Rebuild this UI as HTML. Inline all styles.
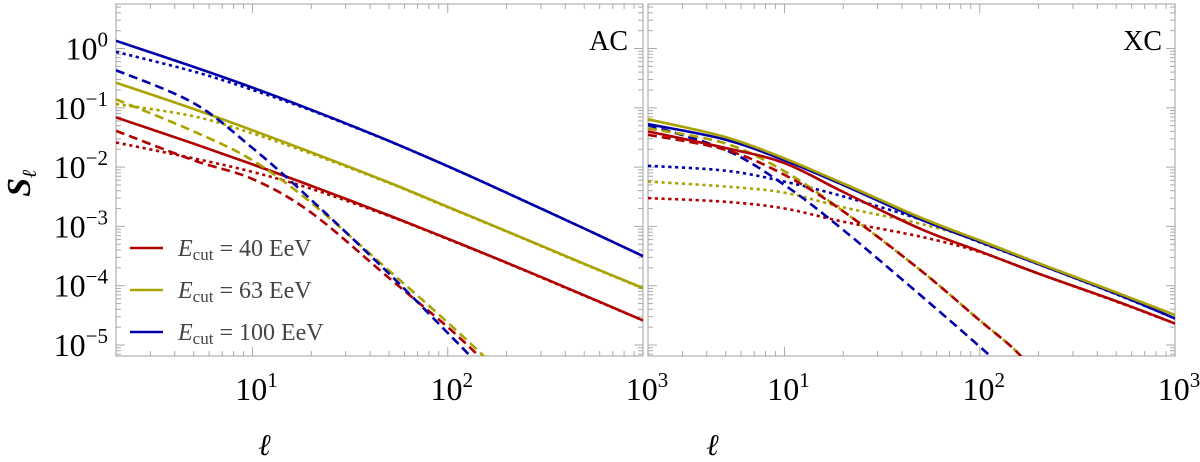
<!DOCTYPE html>
<html><head><meta charset="utf-8"><style>
html,body{margin:0;padding:0;background:#fff;}
svg{display:block;font-family:"Liberation Serif","DejaVu Serif",serif;}
</style></head><body>
<svg id="chart" width="1200" height="462" viewBox="0 0 1200 462">
<defs>
<clipPath id="clipL"><rect x="116" y="4" width="527" height="352"/></clipPath>
<clipPath id="clipR"><rect x="648" y="4" width="527" height="352"/></clipPath>
</defs>
<g id="axes"></g>
<g id="series"></g>
<g>
 <line x1="130" y1="248" x2="163" y2="248" stroke="#b00000" stroke-width="2.6"/>
 <text x="178" y="256" font-size="24" fill="#444"><tspan font-style="italic">E</tspan><tspan font-size="17" dy="4">cut</tspan><tspan dy="-4"> = 40 EeV</tspan></text>
 <line x1="130" y1="290" x2="163" y2="290" stroke="#aaa200" stroke-width="2.6"/>
 <text x="178" y="298" font-size="24" fill="#444"><tspan font-style="italic">E</tspan><tspan font-size="17" dy="4">cut</tspan><tspan dy="-4"> = 63 EeV</tspan></text>
 <line x1="130" y1="332" x2="163" y2="332" stroke="#0000aa" stroke-width="2.6"/>
 <text x="178" y="340" font-size="24" fill="#444"><tspan font-style="italic">E</tspan><tspan font-size="17" dy="4">cut</tspan><tspan dy="-4"> = 100 EeV</tspan></text>
</g>
<text x="628" y="50" font-size="28" text-anchor="end">AC</text>
<text x="1162" y="50" font-size="28" text-anchor="end">XC</text>
<text x="265" y="455" font-size="30" font-style="italic" font-weight="bold" text-anchor="middle">ℓ</text>
<text x="713" y="455" font-size="30" font-style="italic" font-weight="bold" text-anchor="middle">ℓ</text>
<text transform="translate(30,183) rotate(-90)" font-size="34" font-style="italic" font-weight="bold" text-anchor="middle">S<tspan font-size="20" dy="6">ℓ</tspan></text>
</svg>
<script>
const ells = [2,5,10,20,50,100,200,500,1000];
// AC panel
const acBlueSolid   = [1.35,0.49,0.219,0.0927,0.0277,0.01035,0.0037,9.2e-4,3.16e-4];
const acBlueDotted  = [0.88,0.41,0.2,0.09,0.0274,0.0103,0.0037,9.2e-4,3.16e-4];
const acYellowSolid = [0.265,0.0955,0.0417,0.0178,0.0055,0.00214,8.3e-4,2.34e-4,9.1e-5];
const acYellowDotted= [0.116,0.072,0.037,0.0168,0.0054,0.0021,8.2e-4,2.3e-4,9e-5];
const acRedSolid    = [0.069,0.0248,0.0111,0.00483,0.00153,6.2e-4,2.45e-4,6.9e-5,2.6e-5];
const acRedDotted   = [0.026,0.014,0.0083,0.0043,0.0015,6.1e-4,2.42e-4,6.8e-5,2.6e-5];
const dashEll = [2,5,10,20,50,100,150,200];
const acBlueDashed  = [0.43,0.12,0.021,0.0028,1.6e-4,1.6e-5,4e-6,1.4e-6];
const acYellowDashed= [0.139,0.04,0.013,0.0025,1.8e-4,2.4e-5,6.9e-6,2.8e-6];
const acRedDashed   = [0.041,0.013,0.0063,0.0017,1.35e-4,2e-5,5.8e-6,2.4e-6];
// XC panel
const xcYellowSolid = [0.064,0.032,0.014,0.0053,0.0014,5.8e-4,2.4e-4,7.7e-5,3.2e-5];
const xcBlueSolid   = [0.053,0.029,0.013,0.005,0.0013,5.5e-4,2.3e-4,7.3e-5,2.8e-5];
const xcRedSolid    = [0.04,0.021,0.0117,0.0038,9e-4,3.8e-4,1.6e-4,5.5e-5,2.3e-5];
const xcBlueDotted  = [0.0105,0.0087,0.0057,0.0032,0.0013,5.4e-4,2.3e-4,7.2e-5,2.8e-5];
const xcYellowDotted= [0.0057,0.0047,0.0037,0.0021,0.0011,5.7e-4,2.4e-4,7.6e-5,3.2e-5];
const xcRedDotted   = [0.003,0.0026,0.002,0.0012,6.7e-4,3.7e-4,1.6e-4,5.4e-5,2.3e-5];
const xcBlueDashed  = [0.051,0.0195,0.005,8.7e-4,6.8e-5,9.4e-6,2.8e-6,1.1e-6];
const xcYellowDashed= [0.045,0.025,0.0085,0.0018,1.8e-4,2.6e-5,8.5e-6,3e-6];
const xcRedDashed   = [0.035,0.0195,0.0074,0.0018,1.8e-4,2.6e-5,8.5e-6,3e-6];
const yTickLabels = ["0","−1","−2","−3","−4","−5"];
const xTickLabels = ["1","2","3"];

const NS="http://www.w3.org/2000/svg";
const axes=document.getElementById('axes');
const series=document.getElementById('series');
const panels=[{x0:116,name:'ac'},{x0:648,name:'xc'}];
const PW=527, Y0=48.5, DEC=59.3, TOP=4, BOT=356;
const xs=(p,l)=>p.x0+PW*Math.log10(l/2)/Math.log10(500);
const ys=v=>Y0-DEC*Math.log10(v);
function mk(t,a,parent){const e=document.createElementNS(NS,t);for(const k in a)e.setAttribute(k,a[k]);parent.appendChild(e);return e;}

panels.forEach((p,pi)=>{
  const fr=mk('rect',{x:p.x0,y:TOP,width:PW,height:BOT-TOP,fill:'none',stroke:'#b0b0b0','stroke-width':1.2},axes);
  
  
  for(let d=0;d<=3;d++)for(let m=1;m<=9;m++){
    const l=m*Math.pow(10,d); if(l<2||l>1000)continue;
    const x=xs(p,l), len=(m===1)?9:5;
    const t1=mk('line',{x1:x,y1:BOT,x2:x,y2:BOT-len,stroke:'#aaa','stroke-width':1},axes);
    
    
    const t2=mk('line',{x1:x,y1:TOP,x2:x,y2:TOP+len,stroke:'#aaa','stroke-width':1},axes);
    
    
  }
  for(let d=-6;d<=0;d++)for(let m=1;m<=9;m++){
    const v=m*Math.pow(10,d), y=ys(v); if(y<TOP||y>BOT)continue;
    const len=(m===1)?9:5;
    const t1=mk('line',{x1:p.x0,y1:y,x2:p.x0+len,y2:y,stroke:'#aaa','stroke-width':1},axes);
    
    
    const t2=mk('line',{x1:p.x0+PW,y1:y,x2:p.x0+PW-len,y2:y,stroke:'#aaa','stroke-width':1},axes);
    
    
  }
  xTickLabels.forEach((lab,i)=>{
    const x=xs(p,Math.pow(10,i+1));
    const t=mk('text',{x:x+4,y:400,'font-size':32,'text-anchor':'middle'},axes);
    
    
    t.textContent='10';
    const s=mk('tspan',{'font-size':21,dy:-13},t); s.textContent=lab;
  });
});
yTickLabels.forEach((lab,i)=>{
  const y=ys(Math.pow(10,-i));
  const t=mk('text',{x:108,y:y+11,'font-size':32,'text-anchor':'end'},axes);
  
  
  t.textContent='10';
  const s=mk('tspan',{'font-size':21,dy:-13},t); s.textContent=lab;
});

const RED='#b00000', YEL='#aaa200', BLU='#0000aa';
const DASH={solid:null,dotted:'3.2 3.6',dashed:'9 5'};
const defs=[
 [0,ells,acRedSolid,RED,'solid','ac-red-solid'],
 [0,ells,acRedDotted,RED,'dotted','ac-red-dotted'],
 [0,dashEll,acRedDashed,RED,'dashed','ac-red-dashed'],
 [0,ells,acYellowSolid,YEL,'solid','ac-yellow-solid'],
 [0,ells,acYellowDotted,YEL,'dotted','ac-yellow-dotted'],
 [0,dashEll,acYellowDashed,YEL,'dashed','ac-yellow-dashed'],
 [0,ells,acBlueSolid,BLU,'solid','ac-blue-solid'],
 [0,ells,acBlueDotted,BLU,'dotted','ac-blue-dotted'],
 [0,dashEll,acBlueDashed,BLU,'dashed','ac-blue-dashed'],
 [1,ells,xcRedDotted,RED,'dotted','xc-red-dotted'],
 [1,ells,xcYellowDotted,YEL,'dotted','xc-yellow-dotted'],
 [1,ells,xcBlueDotted,BLU,'dotted','xc-blue-dotted'],
 [1,dashEll,xcBlueDashed,BLU,'dashed','xc-blue-dashed'],
 [1,dashEll,xcYellowDashed,YEL,'dashed','xc-yellow-dashed'],
 [1,dashEll,xcRedDashed,RED,'dashed','xc-red-dashed'],
 [1,ells,xcRedSolid,RED,'solid','xc-red-solid'],
 [1,ells,xcBlueSolid,BLU,'solid','xc-blue-solid'],
 [1,ells,xcYellowSolid,YEL,'solid','xc-yellow-solid'],
];
function smoothPath(pts){
  let d='M'+pts[0][0].toFixed(1)+','+pts[0][1].toFixed(1);
  for(let i=0;i<pts.length-1;i++){
    const p0=pts[i-1]||pts[i],p1=pts[i],p2=pts[i+1],p3=pts[i+2]||p2;
    const c1=[p1[0]+(p2[0]-p0[0])/6,p1[1]+(p2[1]-p0[1])/6];
    const c2=[p2[0]-(p3[0]-p1[0])/6,p2[1]-(p3[1]-p1[1])/6];
    d+=' C'+c1[0].toFixed(1)+','+c1[1].toFixed(1)+' '+c2[0].toFixed(1)+','+c2[1].toFixed(1)+' '+p2[0].toFixed(1)+','+p2[1].toFixed(1);
  }
  return d;
}
defs.forEach(([pi,xsA,vals,col,sty,name])=>{
  const p=panels[pi];
  const pts=xsA.map((l,i)=>[xs(p,l),ys(vals[i])]);
  const a={d:smoothPath(pts),fill:'none',stroke:col,'stroke-width':2.6,'clip-path':pi?'url(#clipR)':'url(#clipL)'};
  if(DASH[sty])a['stroke-dasharray']=DASH[sty];
  const e=mk('path',a,series);
  
  
});
</script>
</body></html>
